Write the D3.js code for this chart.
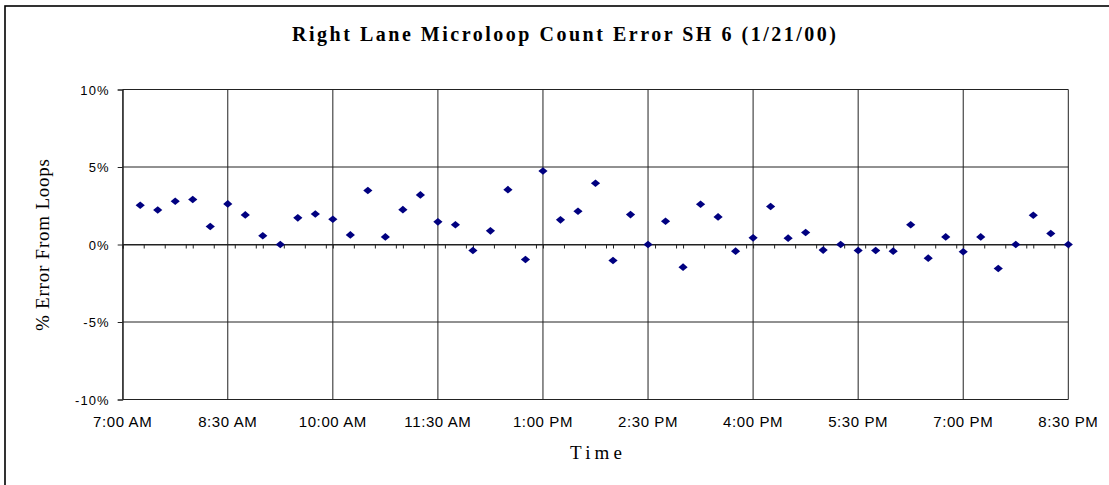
<!DOCTYPE html>
<html>
<head>
<meta charset="utf-8">
<script src="https://cdn.jsdelivr.net/npm/d3@7"></script>
<style>
  body { margin: 0; background: #fff; }
  svg { display: block; }
</style>
</head>
<body>
<script>
const w = 1109;
const h = 485;

// sample times (15 min apart) and % error
const times = [
  "07:15", "07:30", "07:45", "08:00", "08:15", "08:30", "08:45", "09:00", "09:15",
  "09:30", "09:45", "10:00", "10:15", "10:30", "10:45", "11:00", "11:15", "11:30",
  "11:45", "12:00", "12:15", "12:30", "12:45", "13:00", "13:15", "13:30", "13:45",
  "14:00", "14:15", "14:30", "14:45", "15:00", "15:15", "15:30", "15:45", "16:00",
  "16:15", "16:30", "16:45", "17:00", "17:15", "17:30", "17:45", "18:00", "18:15",
  "18:30", "18:45", "19:00", "19:15", "19:30", "19:45", "20:00", "20:15", "20:30"
];
const errorPct = [
  2.53, 2.23, 2.79, 2.90, 1.16, 2.62, 1.91, 0.56, 0.00,
  1.72, 1.97, 1.63, 0.62, 3.48, 0.49, 2.25, 3.20, 1.46,
  1.27, -0.39, 0.88, 3.54, -0.97, 4.74, 1.59, 2.15, 3.95,
  -1.03, 1.93, 0.00, 1.50, -1.46, 2.60, 1.78, -0.43, 0.43,
  2.45, 0.41, 0.77, -0.36, 0.00, -0.39, -0.39, -0.43, 1.27,
  -0.88, 0.49, -0.47, 0.49, -1.55, 0.00, 1.89, 0.71, 0.00
];
const xTickLabels = ["7:00 AM", "8:30 AM", "10:00 AM", "11:30 AM", "1:00 PM",
  "2:30 PM", "4:00 PM", "5:30 PM", "7:00 PM", "8:30 PM"];
const xTickTimes = ["07:00", "08:30", "10:00", "11:30", "13:00",
  "14:30", "16:00", "17:30", "19:00", "20:30"];
const yTicks = [-10, -5, 0, 5, 10];

const parseTime = d3.timeParse("%Y-%m-%d %H:%M");
const toDate = t => parseTime("2000-01-21 " + t);

const data = times.map((t, i) => ({ t: toDate(t), v: errorPct[i] }));

const plotL = 122.7, plotR = 1068.3, plotT = 89.5, plotB = 399.5;

const x = d3.scaleTime()
  .domain([toDate("07:00"), toDate("20:30")])
  .range([plotL, plotR]);

const y = d3.scaleLinear()
  .domain([-10, 10])
  .range([plotB, plotT]);

const svg = d3.select("body")
  .append("svg")
  .attr("width", w)
  .attr("height", h);

svg.append("rect")
  .attr("width", w).attr("height", h)
  .attr("fill", "#fff");

// outer frame (runs off the right and bottom edges)
svg.append("rect")
  .attr("x", 5).attr("y", 6)
  .attr("width", 1200).attr("height", 600)
  .attr("fill", "none")
  .attr("stroke", "#000")
  .attr("stroke-width", 1.6);

const grid = svg.append("g").attr("stroke", "#222").attr("stroke-width", 1);

// horizontal grid lines
grid.selectAll("line.h")
  .data(yTicks)
  .enter()
  .append("line")
  .attr("class", "h")
  .attr("x1", plotL).attr("x2", plotR)
  .attr("y1", d => y(d)).attr("y2", d => y(d));

// vertical grid lines
grid.selectAll("line.v")
  .data(xTickTimes)
  .enter()
  .append("line")
  .attr("class", "v")
  .attr("x1", d => x(toDate(d))).attr("x2", d => x(toDate(d)))
  .attr("y1", plotT).attr("y2", plotB);

// y axis with outside ticks
const yAxis = svg.append("g")
  .attr("transform", "translate(" + plotL + ",0)")
  .call(d3.axisLeft(y).tickValues(yTicks).tickSize(5).tickFormat(d => d + "%"));
yAxis.select(".domain").attr("stroke", "#222");
yAxis.selectAll(".tick line").attr("stroke", "#222");
yAxis.selectAll("text")
  .attr("x", -13)
  .attr("dy", "0.36em")
  .style("font-family", "Arial, 'Liberation Sans', sans-serif")
  .style("font-size", "13px")
  .style("letter-spacing", "1.1px")
  .attr("fill", "#000");

// category axis crossing at 0% with small tick marks
const minorTicks = d3.timeMinute.every(18).range(toDate("07:00"), toDate("20:31"));
const zeroAxis = svg.append("g")
  .attr("transform", "translate(0," + y(0) + ")")
  .call(d3.axisBottom(x).tickValues(minorTicks).tickSize(4).tickFormat(""));
zeroAxis.select(".domain").attr("stroke", "#222");
zeroAxis.selectAll(".tick line").attr("stroke", "#222");

// x tick labels below the plot
svg.append("g")
  .selectAll("text")
  .data(xTickTimes)
  .enter()
  .append("text")
  .attr("x", d => x(toDate(d)))
  .attr("y", 426.5)
  .attr("text-anchor", "middle")
  .style("font-family", "Arial, 'Liberation Sans', sans-serif")
  .style("font-size", "15px")
  .style("letter-spacing", "0.6px")
  .text((d, i) => xTickLabels[i]);

// points
const diamond = "M0,-3.8L4.6,0L0,3.8L-4.6,0Z";
svg.append("g")
  .selectAll("path")
  .data(data)
  .enter()
  .append("path")
  .attr("d", diamond)
  .attr("transform", d => "translate(" + x(d.t) + "," + y(d.v) + ")")
  .attr("fill", "#000080");

// titles
svg.append("text")
  .attr("x", 292)
  .attr("y", 41)
  .attr("textLength", 544)
  .attr("lengthAdjust", "spacing")
  .style("font-family", "'Liberation Serif', 'Times New Roman', serif")
  .style("font-weight", "bold")
  .style("font-size", "20px")
  .text("Right Lane Microloop Count Error SH 6 (1/21/00)");

svg.append("text")
  .attr("x", 570)
  .attr("y", 459)
  .attr("textLength", 52)
  .attr("lengthAdjust", "spacing")
  .style("font-family", "'Liberation Serif', 'Times New Roman', serif")
  .style("font-size", "19px")
  .text("Time");

svg.append("text")
  .attr("transform", "translate(49,331) rotate(-90)")
  .attr("textLength", 172)
  .attr("lengthAdjust", "spacing")
  .style("font-family", "'Liberation Serif', 'Times New Roman', serif")
  .style("font-size", "19px")
  .text("% Error From Loops");
</script>
</body>
</html>
